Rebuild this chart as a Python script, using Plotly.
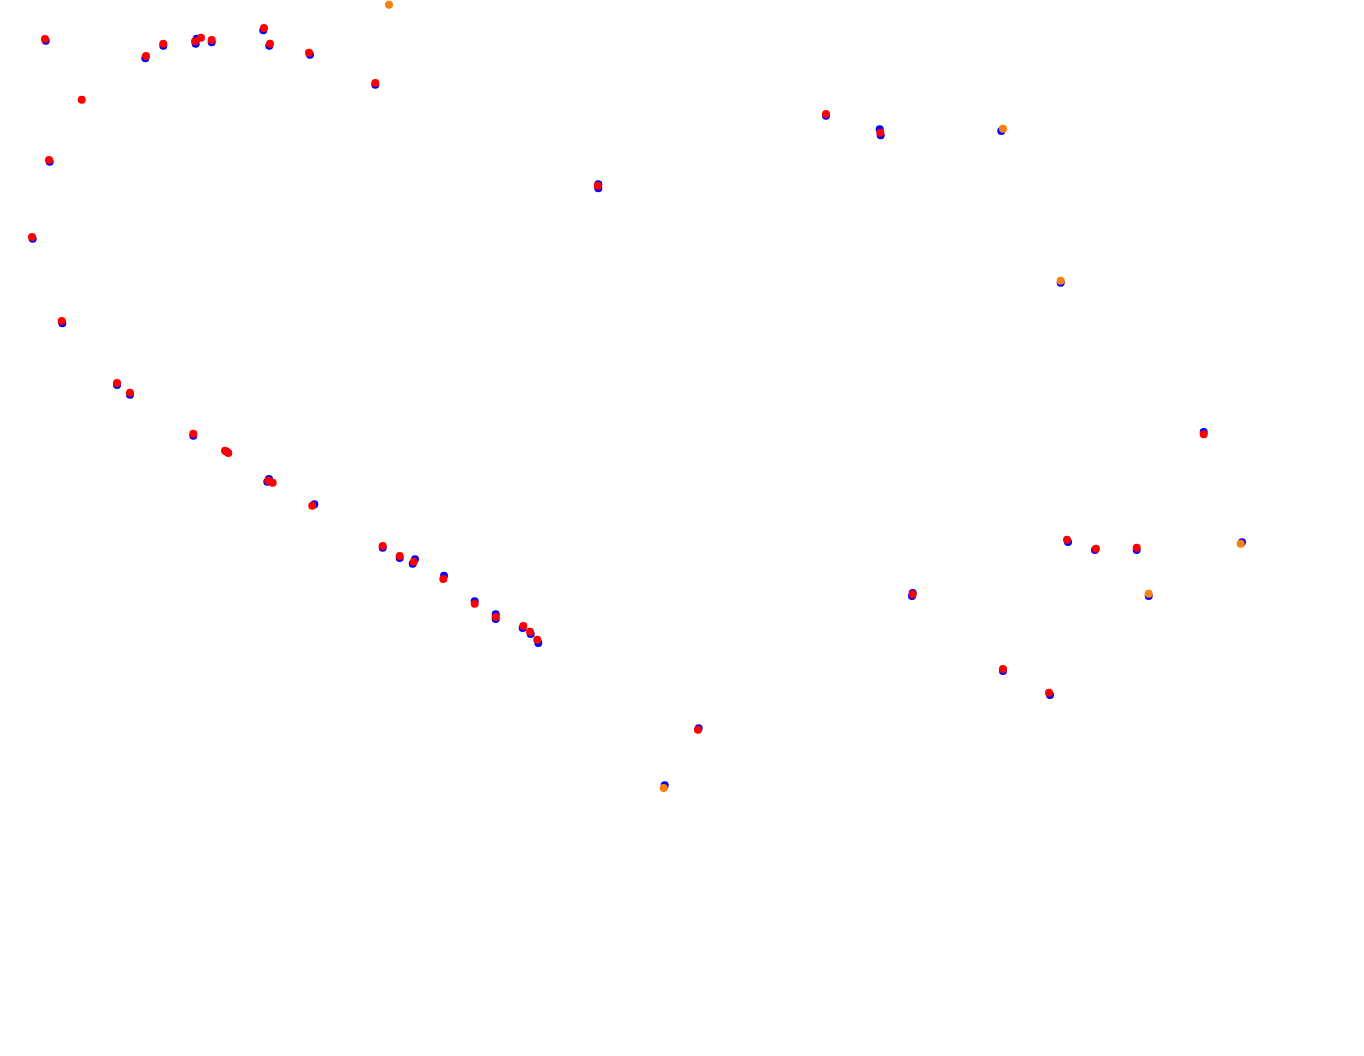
import plotly.graph_objects as go

# Track-map style scatter: three series of points (x, y in plot units)
blue_x = [45.7, 49.7, 32.7, 62.3, 145.3, 163.3, 195.7, 196.7, 211.7, 263.3, 269.3, 310.0, 375.3,
          117.0, 130.0, 193.3, 226.7, 267.3, 269.0, 314.3, 382.7, 399.7, 415.0, 412.7, 444.0,
          474.7, 495.7, 495.7, 522.7, 530.7, 538.3,
          598.3, 598.3, 826.0, 879.7, 880.7, 1001.3, 1060.7,
          1203.7, 1068.0, 1095.0, 1136.7, 1242.0, 912.7, 912.0, 1148.7, 1003.0, 1050.0,
          698.7, 664.7]
blue_y = [40.7, 161.7, 238.7, 323.3, 58.3, 45.7, 43.7, 38.7, 42.3, 30.3, 45.7, 54.7, 84.7,
          385.0, 394.7, 435.7, 451.7, 481.7, 479.0, 504.3, 547.7, 558.0, 559.3, 563.7, 575.7,
          601.3, 614.3, 619.0, 628.0, 634.0, 643.0,
          184.3, 188.3, 115.7, 129.3, 135.3, 131.0, 282.7,
          432.0, 542.0, 550.0, 550.0, 542.3, 593.0, 596.0, 596.0, 671.0, 695.0,
          728.3, 785.3]

red_x = [45.0, 81.7, 49.0, 32.0, 61.7, 146.0, 163.3, 195.0, 201.0, 211.7, 264.0, 270.0, 309.0, 375.3,
         117.0, 130.0, 193.3, 225.0, 228.3, 268.3, 272.7, 312.3, 382.7, 399.7, 413.7, 443.3,
         474.7, 495.7, 523.3, 530.0, 537.3,
         597.7, 826.0, 880.3,
         1203.7, 1067.0, 1096.0, 1136.7, 912.7, 1003.0, 1049.0,
         698.0]
red_y = [39.0, 99.7, 160.0, 237.0, 321.0, 56.0, 43.7, 41.3, 37.7, 40.0, 28.0, 43.7, 52.7, 83.0,
         383.0, 392.7, 433.7, 450.7, 453.0, 480.7, 482.7, 505.7, 546.0, 556.0, 561.7, 579.0,
         603.7, 617.0, 626.0, 631.7, 639.7,
         185.7, 114.0, 132.7,
         434.3, 539.7, 548.7, 547.7, 594.3, 669.0, 692.7,
         729.7]

orange_x = [389.0, 1003.0, 1060.7, 1240.7, 1148.7, 663.7]
orange_y = [4.7, 128.7, 280.7, 543.7, 593.7, 788.0]

fig = go.Figure()
fig.add_trace(go.Scatter(x=blue_x, y=blue_y, mode="markers", name="blue",
                         marker=dict(color="#0000ff", size=8, line=dict(width=0))))
fig.add_trace(go.Scatter(x=red_x, y=red_y, mode="markers", name="red",
                         marker=dict(color="#ff0000", size=8, line=dict(width=0))))
fig.add_trace(go.Scatter(x=orange_x, y=orange_y, mode="markers", name="orange",
                         marker=dict(color="#ff7f0e", size=8, line=dict(width=0))))

fig.update_layout(
    width=1364, height=1056,
    margin=dict(l=0, r=0, t=0, b=0),
    paper_bgcolor="white", plot_bgcolor="white",
    showlegend=False,
    xaxis=dict(range=[0, 1364], visible=False),
    yaxis=dict(range=[1056, 0], visible=False),
)

fig.write_html("out.html", config={"displayModeBar": False},
               post_script="document.body.style.margin='0';")
